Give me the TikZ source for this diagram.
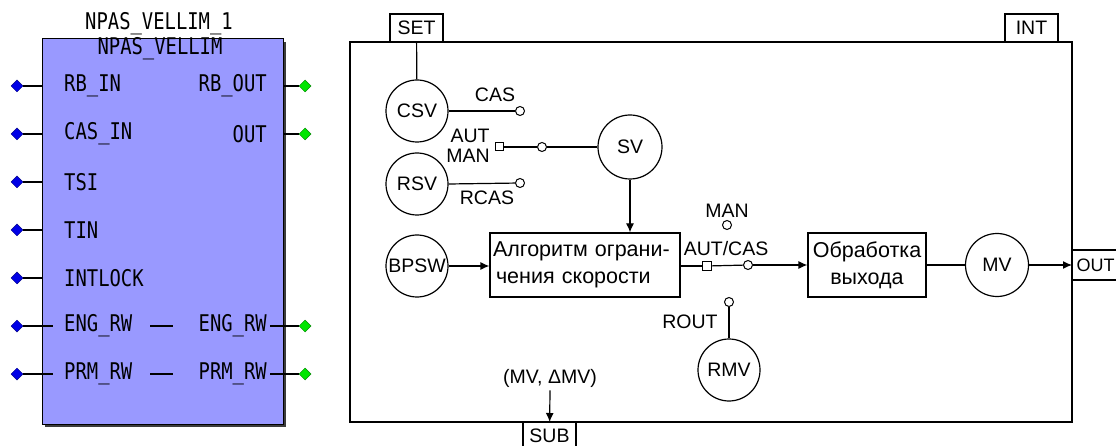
\documentclass[tikz,border=0pt]{standalone}
\usepackage{fontspec}
\setmainfont{Liberation Sans}
\newfontfamily\pinfont[FakeStretch=0.82]{DejaVu Sans Mono}
\usetikzlibrary{shapes.geometric,arrows.meta}
\definecolor{blockfill}{RGB}{153,153,255}
\definecolor{pinblue}{RGB}{0,0,230}
\definecolor{pingreen}{RGB}{0,230,0}
\definecolor{shadowgray}{RGB}{60,60,60}
\tikzset{
  pinlbl/.style={font={\pinfont\fontsize{23}{23}\selectfont}, inner sep=0pt},
  inpin/.style={diamond, fill=pinblue, draw=pinblue!60!black, line width=0.5pt, minimum size=12pt, inner sep=0pt},
  outpin/.style={diamond, fill=pingreen, draw=pingreen!60!black, line width=0.5pt, minimum size=12pt, inner sep=0pt},
  wire/.style={line width=1.3pt},
  dtxt/.style={font={\fontsize{19.5}{24}\selectfont}, inner sep=0pt},
  circ/.style={circle, draw, line width=1.2pt, minimum size=62pt, inner sep=0pt, font={\fontsize{19.5}{24}\selectfont}},
  tabbox/.style={rectangle, draw, line width=1.2pt, minimum width=53pt, minimum height=28pt, inner sep=0pt, font={\fontsize{19.5}{24}\selectfont}},
  procbox/.style={rectangle, draw, line width=1.2pt, minimum height=64pt, inner sep=0pt, font={\fontsize{21.5}{27}\selectfont}},
  term/.style={circle, draw, line width=1pt, fill=white, minimum size=9pt, inner sep=0pt},
  sqterm/.style={rectangle, draw, line width=1pt, fill=white, minimum size=9pt, inner sep=0pt},
  arr/.style={line width=1.2pt, -{Latex[length=9pt,width=8pt]}},
  ln/.style={line width=1.2pt}
}
\begin{document}
\begin{tikzpicture}[x=1pt,y=-1pt]
\useasboundingbox (0,0) rectangle (1116,446);
\fill[white] (0,0) rectangle (1116,446);
% ---------------- left function block ----------------
\fill[shadowgray] (45,42) rectangle (286,427);
\node[draw, line width=1pt, fill=blockfill, minimum width=241pt, minimum height=385pt, inner sep=0pt] (blk) at (162.5,231.5) {};
\node[pinlbl] (title) at (159,24) {NPAS\_VELLIM\_1};
\node[pinlbl] (btype) at (160,49) {NPAS\_VELLIM};
% left pins
\foreach \nm/\lab/\yy/\xe in {rbin/RB\_IN/86/42, casin/CAS\_IN/134/42, tsi/TSI/182/42, tin/TIN/230/42, intlock/INTLOCK/278/42, engin/ENG\_RW/326/53, prmin/PRM\_RW/374/53}{
  \node[inpin] (d\nm) at (17,\yy) {};
  \coordinate (e\nm) at (\xe,\yy);
  \draw[wire] (d\nm) -- (e\nm);
  \node[pinlbl, anchor=west] (l\nm) at (64,\yy) {\lab};
}
% right pins
\foreach \nm/\lab/\yy/\xs in {rbout/RB\_OUT/86/283, out/OUT/134/283, engout/ENG\_RW/326/270, prmout/PRM\_RW/374/270}{
  \node[outpin] (d\nm) at (305,\yy) {};
  \coordinate (e\nm) at (\xs,\yy);
  \draw[wire] (e\nm) -- (d\nm);
  \node[pinlbl, anchor=east] (l\nm) at (267,\yy) {\lab};
}
\coordinate (engA) at (150,326); \coordinate (engB) at (173,326);
\draw[wire] (engA) -- (engB);
\coordinate (prmA) at (150,374); \coordinate (prmB) at (173,374);
\draw[wire] (prmA) -- (prmB);
% ---------------- right diagram ----------------
\draw[ln] (350,42) rectangle (1072,422);
\node[tabbox] (set) at (416.5,28) {SET};
\node[tabbox] (int) at (1031.5,28) {INT};
\node[tabbox, minimum height=26pt, anchor=north, text depth=0pt, text height=13pt] (sub) at (549.5,422) {SUB};
\node[tabbox, anchor=west, minimum width=0pt, minimum height=30pt, inner xsep=4pt, font={\fontsize{18}{22}\selectfont}] (outtab) at (1072,265) {OUT};
% circles
\node[circ] (csv) at (417,111) {CSV};
\node[circ] (rsv) at (417,184) {RSV};
\node[circ, minimum size=64pt] (sv) at (630,147) {SV};
\node[circ] (bpsw) at (417,266) {BPSW};
\node[circ, minimum size=63pt] (mv) at (997,265) {MV};
\node[circ] (rmv) at (729,370) {RMV};
% boxes
\node[procbox, minimum width=190pt, text width=184pt, align=left] (alg) at (585,265) {Алгоритм ограни-\\\hspace*{3pt}чения скорости};
\node[procbox, minimum width=118pt, align=center] (proc) at (867,265) {Обработка\\выхода};
% terminals
\node[term] (tcas) at (520,111) {};
\node[term] (trcas) at (520,183) {};
\node[sqterm, minimum size=8pt] (tman) at (499,147) {};
\node[term] (tpiv) at (542,147) {};
\node[term] (tmanb) at (727,225) {};
\node[sqterm] (tsq) at (707,266) {};
\node[term] (tcasw) at (748,265) {};
\node[term] (trout) at (729,302) {};
% labels
\node[dtxt] (lcas) at (495,95) {CAS};
\node[dtxt] (laut) at (470,136) {AUT};
\node[dtxt] (lman) at (468,156) {MAN};
\node[dtxt] (lrcas) at (487,198) {RCAS};
\node[dtxt] (lmanb) at (727,211) {MAN};
\node[dtxt] (lautcas) at (726,249) {AUT/CAS};
\node[dtxt] (lrout) at (690,322) {ROUT};
\node[dtxt] (lmvd) at (550,378) {(MV, ΔMV)};
% connectors
\draw[ln] (set) -- (csv);
\draw[ln] (csv.east) -- (tcas);
\draw[ln] (rsv.east) -- (trcas);
\draw[ln] (tman) -- (tpiv);
\draw[ln] (tpiv) -- (sv);
\draw[arr] (sv.south) -- (sv.south |- alg.north);
\draw[arr] (bpsw.east) -- (bpsw.east -| alg.west);
\draw[ln] (alg.east |- tsq) -- (tsq);
\draw[ln] (tsq) -- (tcasw);
\draw[arr] (tcasw) -- (tcasw -| proc.west);
\draw[ln] (trout) -- (rmv);
\draw[ln] (proc) -- (mv);
\draw[arr] (mv) -- (outtab);
\draw[arr] (lmvd.south) ++(0,3) -- (sub);
\end{tikzpicture}
\end{document}
